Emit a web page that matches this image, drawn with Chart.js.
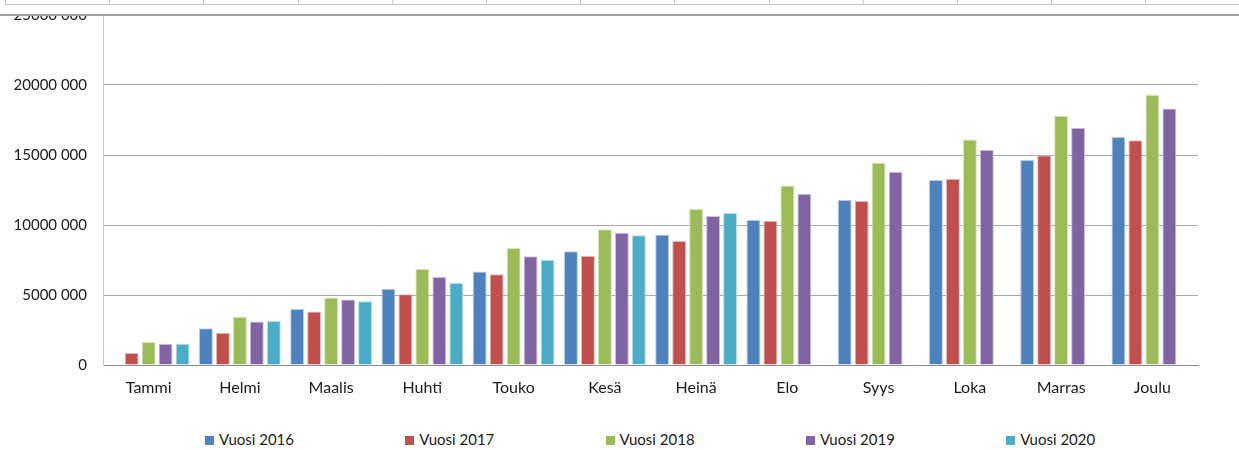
<!DOCTYPE html>
<html>
<head>
<meta charset="utf-8">
<script src="https://cdn.jsdelivr.net/npm/chart.js@4/dist/chart.umd.min.js"></script>
<style>
    body { margin: 0; background: #fff; font-family: Lato, "Open Sans", sans-serif; }
    #wrap { position: relative; width: 1239px; height: 450px; overflow: hidden; }
    #chart { position: absolute; left: 0; top: -10px; }
    #sheet { position: absolute; left: 0; top: 0; width: 1239px; height: 14px; background: #fff; border-bottom: 2px solid #a0a0a0; }
    #sheet .row { position: absolute; left: 5px; top: 0; right: 0; height: 4px; border-bottom: 1px solid #c8c8c8; }
    #sheet .cell { position: absolute; top: 0; height: 5px; border-left: 1px solid #c8c8c8; }
    #legend { position: absolute; left: 0; top: 430px; width: 1239px; height: 18px; }
    #legend .item { position: absolute; top: 0; font-size: 15px; color: #1a1a1a; line-height: 18px; white-space: nowrap; }
    #legend .box { display: inline-block; width: 9px; height: 9px; margin-right: 5px; }
</style>
</head>
<body>
<div id="wrap">
    <canvas id="chart" width="1239" height="420"></canvas>
    <div id="sheet"><div class="row"></div></div>
    <div id="legend"></div>
</div>
<script>
var months = ["Tammi", "Helmi", "Maalis", "Huhti", "Touko", "Kesä", "Heinä", "Elo", "Syys", "Loka", "Marras", "Joulu"];
var seriesNames = ["Vuosi 2016", "Vuosi 2017", "Vuosi 2018", "Vuosi 2019", "Vuosi 2020"];

var vuosi2016 = [null, 2620000, 4000000, 5450000, 6670000, 8120000, 9330000, 10360000, 11810000, 13210000, 14640000, 16290000];
var vuosi2017 = [860000, 2310000, 3830000, 5050000, 6480000, 7810000, 8860000, 10310000, 11710000, 13290000, 14980000, 16050000];
var vuosi2018 = [1640000, 3450000, 4830000, 6860000, 8360000, 9690000, 11140000, 12830000, 14450000, 16100000, 17810000, 19310000];
var vuosi2019 = [1520000, 3100000, 4670000, 6290000, 7760000, 9450000, 10640000, 12240000, 13810000, 15380000, 16950000, 18330000];
var vuosi2020 = [1520000, 3140000, 4550000, 5860000, 7520000, 9260000, 10860000, null, null, null, null, null];

var yTicks = [0, 5000000, 10000000, 15000000, 20000000, 25000000];

var colors = ["#4f81bd", "#c0504d", "#9bbb59", "#8064a2", "#4bacc6"];
var edgeColors = ["#b9cde5", "#e6b9b8", "#d7e4bd", "#ccc1da", "#b7dee8"];

// spreadsheet cell lines peeking above the chart
var sheet = document.getElementById("sheet");
for (var c = 0; c < 13; c++) {
    var cell = document.createElement("div");
    cell.className = "cell";
    cell.style.left = (c === 0 ? 5 : 15 + c * 94.2) + "px";
    sheet.appendChild(cell);
}

// "20000 000" style: space only before the last three digits
function fmt(v) {
    if (v === 0) return "0";
    return Math.floor(v / 1000) + " " + String(v % 1000).padStart(3, "0");
}

var allData = [vuosi2016, vuosi2017, vuosi2018, vuosi2019, vuosi2020];
var datasets = allData.map(function (d, i) {
    return {
        label: seriesNames[i],
        data: d,
        backgroundColor: colors[i],
        borderColor: edgeColors[i],
        borderWidth: 1,
        categoryPercentage: 0.93,
        barPercentage: 0.82,
    };
});

var ctx = document.getElementById("chart").getContext("2d");
var chart = new Chart(ctx, {
    type: "bar",
    data: { labels: months, datasets: datasets },
    options: {
        responsive: false,
        animation: false,
        devicePixelRatio: 1,
        layout: { padding: { top: 15, right: 41, left: 0, bottom: 0 } },
        plugins: { legend: { display: false }, tooltip: { enabled: false } },
        scales: {
            x: {
                grid: { display: false, drawTicks: false },
                border: { color: "#8c8c8c", width: 1 },
                ticks: { color: "#1a1a1a", padding: 13, font: { family: "Lato", size: 16 } },
                afterFit: function (scale) { scale.height = 45; },
            },
            y: {
                min: 0,
                max: 25000000,
                afterBuildTicks: function (scale) {
                    scale.ticks = yTicks.map(function (v) { return { value: v }; });
                },
                grid: { color: "#a6a6a6", drawTicks: false },
                border: { color: "#c4c4c4", width: 1 },
                ticks: {
                    color: "#1a1a1a",
                    padding: 16,
                    font: { family: "Lato", size: 15 },
                    callback: function (v) { return fmt(v); },
                },
                afterFit: function (scale) { scale.width = 103; },
            },
        },
    },
});

// legend
var legend = document.getElementById("legend");
chart.data.datasets.forEach(function (ds, i) {
    var item = document.createElement("div");
    item.className = "item";
    item.style.left = (205 + i * 200.3) + "px";
    item.innerHTML = '<span class="box" style="background:' + ds.backgroundColor + '"></span>' + ds.label;
    legend.appendChild(item);
});
</script>
</body>
</html>
